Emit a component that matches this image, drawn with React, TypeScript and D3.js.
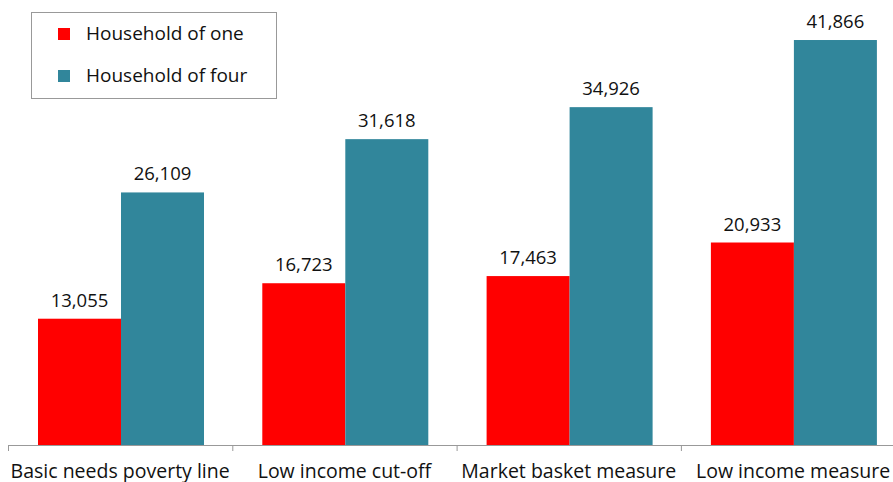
import React from "react";
import * as d3 from "d3";

const categories = ["Basic needs poverty line", "Low income cut-off", "Market basket measure", "Low income measure"];
const seriesNames = ["Household of one", "Household of four"];
const householdOne = [13055, 16723, 17463, 20933];
const householdFour = [26109, 31618, 34926, 41866];
const colors = ["#FF0000", "#31869B"];

const W = 893, H = 482;
const FONT = "'Open Sans', 'Noto Sans', sans-serif";

export default function App() {
  const x0 = 8;
  const band = 224.3;
  const x = d3.scaleBand<string>().domain(categories).range([x0, x0 + band * 4]).paddingInner(0).paddingOuter(0);
  const inner = d3.scaleBand<string>().domain(seriesNames).range([30, 30 + 166]);
  const y = d3.scaleLinear().domain([0, 45000]).range([445, 9.7]);
  const fmt = d3.format(",");
  const series = [householdOne, householdFour];

  return (
    <svg width={W} height={H} style={{ position: "absolute", left: 0, top: 0, background: "#fff" }}>
      {categories.map((c, i) =>
        series.map((vals, s) => {
          const bx = (x(c) as number) + (inner(seriesNames[s]) as number);
          const bw = inner.bandwidth();
          const top = y(vals[i]);
          return (
            <g key={c + s}>
              <rect x={bx} y={top} width={bw} height={y(0) - top} fill={colors[s]} />
              <text x={bx + bw / 2} y={top - 12} textAnchor="middle" fontFamily={FONT} fontSize={18.5} fill="#111">
                {fmt(vals[i])}
              </text>
            </g>
          );
        })
      )}
      <line x1={x0} x2={W} y1={445.5} y2={445.5} stroke="#999" strokeWidth={1} />
      {[0, 1, 2, 3, 4].map((k) => (
        <line key={k} x1={x0 + band * k + 0.5} x2={x0 + band * k + 0.5} y1={445} y2={451} stroke="#999" strokeWidth={1} />
      ))}
      {categories.map((c) => (
        <text key={c} x={(x(c) as number) + band / 2} y={477.5} textAnchor="middle" fontFamily={FONT} fontSize={19.5} fill="#111">
          {c}
        </text>
      ))}
      <rect x={31.5} y={12.5} width={245} height={86} fill="#fff" stroke="#999" strokeWidth={1} />
      {seriesNames.map((n, s) => (
        <g key={n}>
          <rect x={58} y={28 + s * 42} width={12} height={12} fill={colors[s]} />
          <text x={86} y={40 + s * 42} fontFamily={FONT} fontSize={19} fill="#111">
            {n}
          </text>
        </g>
      ))}
    </svg>
  );
}
